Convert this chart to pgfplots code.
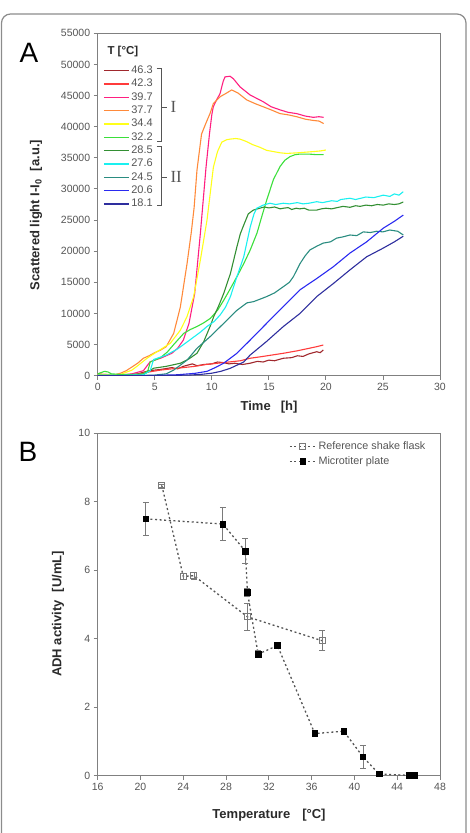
\documentclass[border=0pt]{standalone}
\usepackage{pgfplots}
\pgfplotsset{compat=1.18}
\usepackage{pgfplotstable}
\usepackage{fontspec}
\setmainfont{Liberation Sans}
\newfontfamily\romanfont{Liberation Serif}

\definecolor{axisgray}{HTML}{808080}
\definecolor{ticktext}{HTML}{555555}
\definecolor{labeltext}{HTML}{2A2A2A}
\definecolor{frame}{HTML}{8C8C8C}
\definecolor{cA}{HTML}{A0282D}
\definecolor{cB}{HTML}{FF3B3B}
\definecolor{cC}{HTML}{FF1F80}
\definecolor{cD}{HTML}{FF8A3A}
\definecolor{cE}{HTML}{FFFF1A}
\definecolor{cF}{HTML}{3ADF3A}
\definecolor{cG}{HTML}{338F33}
\definecolor{cH}{HTML}{1AF0F0}
\definecolor{cI}{HTML}{2A8C80}
\definecolor{cJ}{HTML}{2A2AF0}
\definecolor{cK}{HTML}{2E2E9E}
\definecolor{dashg}{HTML}{555555}
\definecolor{markg}{HTML}{7A7A7A}

% ADH activity: temperature, activity, standard deviation
\pgfplotstableread{
x y e
22.0 8.47 0.05
24.0 5.82 0.08
25.0 5.84 0.10
30.0 4.64 0.40
37.0 3.94 0.29
}\flask

\pgfplotstableread{
x y e
20.5 7.50 0.48
27.7 7.35 0.48
29.8 6.56 0.36
30.0 5.35 0.12
31.0 3.55 0.10
32.8 3.80 0.05
36.3 1.23 0.03
39.0 1.30 0.03
40.8 0.55 0.34
42.3 0.05 0.02
45.1 0.01 0.00
45.6 0.01 0.00
}\plate

\pgfplotsset{
  panel/.style={
    scale only axis, width=342.3pt, height=342.4pt,
    axis line style={axisgray, line width=0.9pt},
    tick style={axisgray, line width=0.9pt},
    tick align=outside, major tick length=4pt,
    xtick pos=bottom, ytick pos=left,
    ticklabel style={font=\fontsize{10.5}{12}\selectfont, text=ticktext},
    /pgf/number format/assume math mode=true,
    /pgf/number format/1000 sep={},
    scaled ticks=false,
  },
}

\begin{document}
\begin{tikzpicture}[x=1pt, y=1pt]
\useasboundingbox (0,0) rectangle (469,833);
\draw[frame, line width=1.2pt, rounded corners=9pt] (1.5,-30) rectangle (466,819);

% ---------- Panel A: scattered light over time ----------
\begin{axis}[panel,
  at={(97.7pt,457.3pt)}, anchor=south west,
  xmin=0, xmax=30, ymin=0, ymax=55000,
  xtick={0,5,...,30}, ytick={0,5000,...,55000},
  legend style={draw=none, fill=none, at={(axis description cs:0.0155,0.906)},
    anchor=north west, inner sep=0pt, row sep=3.33pt, column sep=2pt,
    font=\fontsize{11}{13}\selectfont, text=ticktext,
    nodes={inner sep=0pt, text height=7.8pt, text depth=2.2pt}},
  legend cell align=left,
  legend image code/.code={\draw[#1, line width=1.1pt] (0pt,0pt) -- (25pt,0pt);},
  every axis plot/.append style={line width=1.1pt},
]
\addplot[cA] coordinates {(0,100)(1,80)(2,50)(3,200)(3.5,300)(4.5,800)(5.5,1000)(6.5,1300)(7,1100)(7.5,1500)(8.3,1900)(8.7,1600)(9.3,1800)(10,1900)(10.5,2200)(11,2100)(11.5,1900)(12,2000)(12.7,1800)(13.35,2000)(14,2300)(14.5,2200)(15,2500)(15.5,2400)(16.27,2800)(17,2900)(17.5,3200)(18,3100)(18.5,3500)(19.19,3850)(19.5,3700)(19.77,4130)};
\addlegendentry{46.3}
\addplot[cB] coordinates {(0,100)(1,80)(2,50)(3.5,200)(4.5,600)(5.5,900)(6.5,1100)(7.5,1300)(8.5,1500)(9.5,1800)(10.5,2000)(11.5,2200)(12.5,2400)(13.35,2800)(14.5,3100)(16.27,3600)(17.5,4000)(19.19,4660)(19.77,4930)};
\addlegendentry{42.3}
\addplot[cC] coordinates {(0,200)(1,150)(2,100)(3,300)(4,800)(4.6,2250)(5.5,2800)(6.5,3600)(7,4400)(7.5,5700)(8,8400)(8.5,13200)(9,22900)(9.5,33600)(9.8,38900)(10,41900)(10.13,43200)(10.42,44300)(10.72,45300)(11,47300)(11.16,48000)(11.6,48100)(11.89,47700)(12.47,46400)(13.35,45100)(14.51,44000)(15.2,43200)(15.98,42700)(16.7,42300)(17.44,42100)(18.2,41700)(18.9,41500)(19.4,41600)(19.8,41500)};
\addlegendentry{39.7}
\addplot[cD] coordinates {(0,300)(0.5,250)(1,200)(1.5,150)(2,400)(2.5,800)(3,1400)(3.5,2000)(4,2800)(4.5,3200)(5,3700)(5.5,4100)(6,4650)(6.66,6800)(7.24,11000)(7.83,18000)(8.2,23000)(8.45,27000)(8.7,33000)(9.1,38800)(9.47,40500)(9.84,42100)(10.13,43700)(10.72,44800)(11.2,45300)(11.74,45900)(12.3,45400)(13.06,44300)(13.8,43700)(14.5,43200)(15.2,42700)(15.98,42100)(16.7,41900)(17.44,41600)(18.2,41200)(18.9,41000)(19.4,40900)(19.8,40500)};
\addlegendentry{37.7}
\addplot[cE] coordinates {(0,200)(1,150)(2,200)(3,900)(3.4,1450)(4.32,2800)(5.2,3850)(6.36,5200)(7.24,7300)(7.83,9500)(8.41,12700)(9,18600)(9.58,25000)(10.14,33500)(10.5,36000)(10.87,37500)(11.3,37900)(11.6,38000)(12.1,38100)(12.47,38000)(13.06,37600)(13.6,37100)(14.2,36700)(14.8,36200)(15.4,36000)(16,35800)(16.57,35700)(17.5,35800)(18.2,35900)(18.9,36000)(19.5,36100)(20,36250)};
\addlegendentry{34.4}
\addplot[cF] coordinates {(0,300)(0.3,500)(0.6,700)(0.9,600)(1.2,300)(2,200)(3,200)(4,300)(4.4,800)(4.6,2200)(5,2500)(5.5,2900)(6.1,3800)(6.66,5000)(7.1,5900)(7.54,6800)(8.1,7400)(8.7,7900)(9.3,8500)(9.87,9200)(10.5,10500)(11.04,12100)(11.6,13900)(12.2,15900)(12.8,18000)(13.37,20200)(13.96,22900)(14.37,25500)(14.81,28200)(15.4,31500)(15.98,33600)(16.4,34600)(16.86,35200)(17.3,35500)(17.73,35600)(18.5,35600)(19.2,35500)(19.8,35500)};
\addlegendentry{32.2}
\addplot[cG] coordinates {(0,100)(2,50)(4,150)(4.9,1200)(6,1500)(7.24,2000)(8,2700)(8.7,3600)(9.3,5500)(9.87,8000)(10.17,9500)(10.6,11200)(11.04,13200)(11.63,16400)(12.2,20700)(12.5,22800)(12.8,24200)(13.2,26000)(13.64,26600)(14.2,26900)(14.6,27100)(15,26950)(15.5,27100)(16,26800)(16.27,26900)(16.7,27000)(17,26700)(17.4,26900)(17.7,26800)(18.1,26900)(18.5,26600)(19.19,26600)(19.6,26800)(20,26900)(20.5,26800)(21,27000)(21.5,27200)(22.11,27050)(22.6,27300)(23,27200)(23.5,27400)(24,27300)(24.5,27500)(25.03,27400)(25.5,27600)(26,27500)(26.4,27600)(26.78,27900)};
\addlegendentry{28.5}
\addplot[cH] coordinates {(0,100)(2,50)(4,150)(4.6,800)(4.9,2600)(6,3300)(7,4300)(8.12,5800)(9,7000)(9.58,7900)(10.2,8700)(10.75,9800)(11.2,11000)(11.63,12700)(12.2,15900)(12.8,19100)(13.37,23900)(13.7,26000)(13.94,26900)(14.5,27400)(15.1,27700)(15.6,27500)(16.27,27700)(16.8,27600)(17.5,27800)(18,27600)(18.5,27700)(19.19,27950)(19.7,27800)(20.5,28100)(21,28000)(21.3,28300)(22.11,28500)(22.6,28300)(23.5,28700)(24.2,28600)(25.03,29000)(25.6,28800)(26,29200)(26.4,29000)(26.78,29550)};
\addlegendentry{27.6}
\addplot[cI] coordinates {(0,0)(3,0)(5,100)(6,300)(6.66,900)(7.83,2500)(8.7,4400)(9.87,6300)(11.04,8400)(12.2,10500)(13.08,11700)(13.67,11900)(14.8,12700)(15.5,13300)(16.27,14300)(16.8,15000)(17.15,15900)(17.73,18000)(18.2,19300)(18.6,20200)(19.2,20800)(19.77,21300)(20.4,21500)(20.94,22100)(21.5,22300)(22.11,22600)(22.7,22500)(23.28,23100)(23.9,23000)(24.45,23200)(25,23100)(25.6,23400)(26.3,23200)(26.78,22600)};
\addlegendentry{24.5}
\addplot[cJ] coordinates {(0,0)(4,0)(6,100)(7,150)(8,300)(8.6,400)(9.58,700)(10.3,1300)(11.04,2000)(12.2,3600)(13.35,5700)(14.8,8400)(16.27,11100)(17.73,13800)(19.19,15600)(20.65,17500)(22.11,19700)(23.57,21500)(25.03,23700)(26,24800)(26.78,25800)};
\addlegendentry{20.6}
\addplot[cK] coordinates {(0,0)(5,0)(8,100)(9,200)(10,400)(10.8,700)(11.63,1200)(12.8,2200)(13.35,3300)(14.8,5500)(16.27,7900)(17.73,10000)(19.19,12700)(20.65,14800)(22.11,17000)(23.57,19100)(25.03,20500)(26,21500)(26.78,22400)};
\addlegendentry{18.1}
\end{axis}

% legend title and temperature groups
\node[anchor=west, font=\bfseries\fontsize{11.5}{13}\selectfont, text=labeltext] at (104,781.3) {T [°C]};
\draw[ticktext, line width=0.8pt] (156.7,764.7) -- (161,764.7) -- (161,692) -- (156.7,692);
\draw[ticktext, line width=0.8pt] (161,725.7) -- (167,725.7);
\node[anchor=west, font=\romanfont\fontsize{17}{19}\selectfont, text=ticktext] at (167,725.7) {I};
\draw[ticktext, line width=0.8pt] (156.7,686.3) -- (161,686.3) -- (161,627.3) -- (156.7,627.3);
\draw[ticktext, line width=0.8pt] (161,656) -- (167,656);
\node[anchor=west, font=\romanfont\fontsize{17}{19}\selectfont, text=ticktext] at (167,656) {II};

\node[font=\fontsize{28}{30}\selectfont] at (29,780) {A};
\node[font=\bfseries\fontsize{13}{15}\selectfont, text=labeltext] at (269,426) {Time\hspace{10pt}[h]};
\node[rotate=90, font=\bfseries\fontsize{13}{15}\selectfont, text=labeltext] at (36,618) {Scattered light I-I\textsubscript{0}\hspace{8pt}[a.u.]};

% ---------- Panel B: ADH activity over temperature ----------
\begin{axis}[panel,
  at={(97.7pt,57.3pt)}, anchor=south west,
  xmin=16, xmax=48, ymin=0, ymax=10,
  xtick={16,20,...,48}, ytick={0,2,...,10},
  clip=false,
  legend style={draw=none, fill=none, at={(axis description cs:0.559,0.976)},
    anchor=north west, inner sep=0pt, row sep=4.6pt, column sep=2pt,
    font=\fontsize{10.8}{13}\selectfont, text=ticktext,
    nodes={inner sep=0pt, text height=7.8pt, text depth=2.2pt}},
  legend cell align=left,
  legend image code/.code={\draw[mark repeat=2,mark phase=2,#1] plot coordinates {(0pt,0pt) (13pt,0pt) (26pt,0pt)};},
]
\addplot[dashg, line width=1.3pt, dash pattern=on 2pt off 2.6pt,
  mark=square, mark size=3pt, mark options={solid, draw=markg, fill=white, line width=1pt},
  error bars/.cd, y dir=both, y explicit,
  error bar style={solid, markg, line width=0.8pt},
  error mark options={rotate=90, mark size=3pt, solid, markg, line width=0.8pt}]
  table[x=x, y=y, y error=e] {\flask};
\addlegendentry{Reference shake flask}
\addplot[dashg, line width=1.3pt, dash pattern=on 2pt off 2.6pt,
  mark=square*, mark size=2.8pt, mark options={solid, draw=black, fill=black, line width=0.6pt},
  error bars/.cd, y dir=both, y explicit,
  error bar style={solid, markg, line width=0.8pt},
  error mark options={rotate=90, mark size=3pt, solid, markg, line width=0.8pt}]
  table[x=x, y=y, y error=e] {\plate};
\addlegendentry{Microtiter plate}
\end{axis}

\node[font=\fontsize{28}{30}\selectfont] at (28,381) {B};
\node[font=\bfseries\fontsize{13}{15}\selectfont, text=labeltext] at (269,18) {Temperature\hspace{12pt}[°C]};
\node[rotate=90, font=\bfseries\fontsize{13}{15}\selectfont, text=labeltext] at (58,219) {ADH activity\hspace{8pt}[U/mL]};
\end{tikzpicture}
\end{document}
